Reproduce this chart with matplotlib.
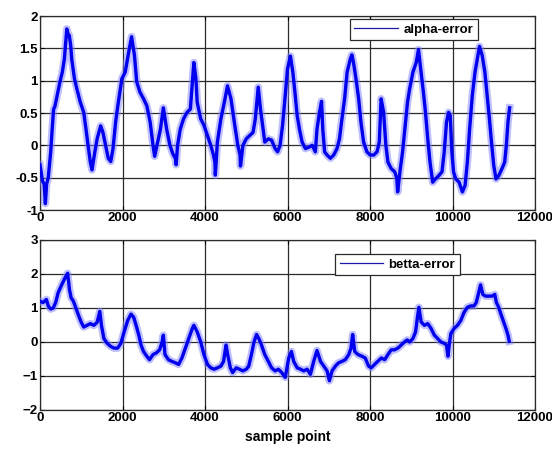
import matplotlib
matplotlib.use("Agg")
import matplotlib.pyplot as plt

### DATA
alpha_x = [0, 60, 100, 130, 160, 200, 260, 295, 330, 360, 400, 480, 540, 590, 650, 680, 710, 745, 770,
           835, 895, 975, 1060, 1115, 1165, 1220, 1260, 1330, 1385, 1470, 1525, 1590, 1655, 1715, 1770,
           1835, 1900, 1985, 2065, 2150, 2220, 2290, 2345, 2425, 2510, 2590, 2670, 2740, 2780, 2835,
           2920, 2990, 3070, 3150, 3220, 3280, 3300, 3335, 3400, 3480, 3565, 3645, 3700, 3730, 3780,
           3810, 3895, 3975, 4060, 4140, 4205, 4240, 4250, 4300, 4385, 4470, 4545, 4630, 4710, 4795,
           4850, 4860, 4920, 5000, 5080, 5165, 5220, 5290, 5345, 5410, 5450, 5535, 5615, 5700, 5760,
           5820, 5880, 5945, 6000, 6070, 6130, 6180, 6235, 6290, 6355, 6435, 6515, 6600, 6675, 6715,
           6775, 6825, 6855, 6900, 6960, 7040, 7120, 7200, 7260, 7320, 7385, 7445, 7525, 7560, 7600,
           7660, 7725, 7780, 7845, 7925, 8005, 8090, 8170, 8225, 8270, 8330, 8385, 8435, 8515, 8600,
           8650, 8670, 8735, 8790, 8855, 8910, 8960, 9040, 9120, 9175, 9240, 9295, 9345, 9400, 9455,
           9520, 9585, 9665, 9745, 9800, 9855, 9905, 9945, 9985, 10025, 10080, 10160, 10240, 10305,
           10360, 10415, 10480, 10545, 10600, 10655, 10720, 10785, 10840, 10895, 10945, 11000, 11055,
           11120, 11200, 11265, 11305, 11345, 11385]
alpha_y = [-0.3, -0.55, -0.6, -0.9, -0.6, -0.5, -0.1, 0.25, 0.56, 0.6, 0.72, 0.97, 1.13, 1.33, 1.8, 1.72,
           1.7, 1.54, 1.33, 1.03, 0.87, 0.67, 0.51, 0.25, 0.0, -0.26, -0.38, -0.1, 0.1, 0.3, 0.2, 0.0,
           -0.2, -0.25, -0.05, 0.37, 0.67, 1.03, 1.13, 1.44, 1.68, 1.39, 0.98, 0.82, 0.72, 0.61, 0.36,
           0.0, -0.17, 0.0, 0.25, 0.58, 0.25, 0.0, -0.13, -0.2, -0.3, 0.0, 0.25, 0.41, 0.51, 0.56,
           1.03, 1.28, 1.03, 0.67, 0.41, 0.31, 0.15, 0.0, -0.15, -0.26, -0.46, 0.05, 0.41, 0.67, 0.92,
           0.72, 0.36, 0.0, -0.15, -0.32, 0.0, 0.1, 0.15, 0.2, 0.41, 0.9, 0.56, 0.25, 0.05, 0.1, 0.08,
           -0.05, -0.1, 0.0, 0.31, 0.77, 1.18, 1.38, 1.13, 0.82, 0.46, 0.25, 0.05, -0.05, -0.03, 0.0,
           -0.1, 0.25, 0.51, 0.68, 0.25, -0.1, -0.15, -0.2, -0.15, -0.05, 0.1, 0.41, 0.72, 1.13, 1.34,
           1.4, 1.28, 1.03, 0.72, 0.36, 0.05, -0.1, -0.15, -0.15, -0.1, 0.05, 0.72, 0.51, 0.0, -0.26,
           -0.36, -0.41, -0.51, -0.72, -0.36, -0.1, 0.31, 0.67, 0.87, 1.13, 1.28, 1.48, 1.13, 0.82, 0.51,
           0.1, -0.26, -0.57, -0.52, -0.47, -0.41, -0.1, 0.36, 0.51, 0.46, -0.1, -0.41, -0.52, -0.57,
           -0.72, -0.62, -0.26, 0.25, 0.77, 1.13, 1.33, 1.53, 1.39, 1.13, 0.77, 0.41, 0.05, -0.31, -0.52,
           -0.47, -0.36, -0.26, 0.0, 0.36, 0.58]

betta_x = [0, 75, 155, 200, 260, 320, 380, 440, 525, 605, 670, 715, 755, 810, 870, 935, 1000, 1060,
           1140, 1220, 1305, 1385, 1450, 1490, 1550, 1630, 1715, 1795, 1880, 1960, 2040, 2125, 2205,
           2270, 2330, 2395, 2450, 2510, 2590, 2655, 2740, 2820, 2900, 2960, 2990, 3030, 3115, 3195,
           3280, 3360, 3440, 3525, 3605, 3690, 3730, 3810, 3895, 3975, 4060, 4140, 4220, 4300, 4385,
           4450, 4510, 4550, 4615, 4670, 4755, 4835, 4920, 5000, 5060, 5125, 5190, 5250, 5305, 5370,
           5450, 5535, 5615, 5700, 5780, 5860, 5945, 6030, 6095, 6150, 6235, 6315, 6395, 6475, 6555,
           6635, 6715, 6800, 6880, 6960, 7015, 7080, 7160, 7240, 7320, 7400, 7485, 7540, 7580, 7630,
           7710, 7805, 7885, 7965, 8030, 8110, 8190, 8275, 8355, 8435, 8515, 8595, 8675, 8755, 8835,
           8900, 8960, 9040, 9105, 9145, 9185, 9240, 9320, 9400, 9480, 9560, 9640, 9720, 9800, 9855,
           9890, 9920, 9960, 10040, 10120, 10200, 10280, 10360, 10440, 10520, 10575, 10625, 10680,
           10735, 10800, 10880, 10960, 11025, 11065, 11120, 11185, 11240, 11295, 11345, 11375]
betta_y = [1.2, 1.16, 1.25, 1.06, 0.97, 1.0, 1.16, 1.45, 1.68, 1.88, 2.02, 1.54, 1.3, 1.2, 1.0, 0.78,
           0.58, 0.44, 0.49, 0.54, 0.49, 0.58, 0.9, 0.49, 0.1, -0.04, -0.13, -0.18, -0.18, -0.04, 0.3,
           0.63, 0.82, 0.73, 0.49, 0.2, -0.09, -0.28, -0.42, -0.52, -0.37, -0.32, -0.23, 0.0, 0.2,
           -0.37, -0.52, -0.57, -0.61, -0.66, -0.47, -0.18, 0.1, 0.39, 0.49, 0.3, 0.01, -0.37, -0.66,
           -0.76, -0.8, -0.76, -0.71, -0.57, -0.09, -0.37, -0.76, -0.9, -0.76, -0.8, -0.85, -0.8, -0.71,
           -0.37, 0.01, 0.22, 0.1, -0.09, -0.37, -0.57, -0.76, -0.85, -0.8, -0.9, -1.04, -0.47, -0.28,
           -0.57, -0.76, -0.8, -0.85, -0.8, -0.95, -0.57, -0.25, -0.57, -0.71, -0.85, -1.14, -0.85,
           -0.71, -0.61, -0.57, -0.52, -0.37, -0.18, 0.22, -0.28, -0.37, -0.42, -0.47, -0.71, -0.76,
           -0.66, -0.57, -0.47, -0.52, -0.37, -0.23, -0.23, -0.18, -0.09, 0.0, 0.06, 0.0, 0.1, 0.3,
           0.68, 1.02, 0.59, 0.49, 0.54, 0.4, 0.2, 0.1, 0.0, -0.04, -0.09, -0.42, -0.09, 0.25, 0.4,
           0.49, 0.63, 0.87, 1.02, 1.06, 1.06, 1.16, 1.4, 1.68, 1.4, 1.35, 1.35, 1.35, 1.4, 1.16, 1.02,
           0.78, 0.59, 0.4, 0.2, 0.02]

x_ticks = [0, 2000, 4000, 6000, 8000, 10000, 12000]
alpha_ticks = [-1, -0.5, 0, 0.5, 1, 1.5, 2]
alpha_labels = ["-1", "-0.5", "0", "0.5", "1", "1.5", "2"]
betta_ticks = [-2, -1, 0, 1, 2, 3]

### STYLE
plt.rcParams['font.family'] = ['Liberation Sans', 'DejaVu Sans']
plt.rcParams['font.weight'] = 'bold'
plt.rcParams['font.size'] = 9.5

fig = plt.figure(figsize=(5.52, 4.5), dpi=100)
ax1 = fig.add_axes([40 / 552, 1 - 210 / 450, 495 / 552, 194 / 450])
ax2 = fig.add_axes([40 / 552, 1 - 410 / 450, 495 / 552, 170 / 450])


def matlab_axes(ax, yticks, ylim, ylabels=None):
    ax.set_xlim(0, 12000)
    ax.set_ylim(*ylim)
    ax.set_xticks(x_ticks)
    ax.set_yticks(yticks)
    if ylabels is not None:
        ax.set_yticklabels(ylabels)
    ax.grid(True, color='#2a2a2a', linewidth=0.9, linestyle='-')
    ax.set_axisbelow(True)
    ax.tick_params(direction='in', length=3, width=0.8, top=True, right=True, pad=1.5,
                   labelsize=9.5)
    for lab in ax.get_xticklabels() + ax.get_yticklabels():
        lab.set_fontweight('bold')
    for s in ax.spines.values():
        s.set_color('#2a2a2a')
        s.set_linewidth(0.9)


# light halo + dark core to mimic the noisy band
ax1.plot(alpha_x, alpha_y, color='#8080ff', linewidth=5.5, alpha=0.5, zorder=3)
l1, = ax1.plot(alpha_x, alpha_y, color='#0000ee', linewidth=2.4, zorder=4, label='alpha-error')
matlab_axes(ax1, alpha_ticks, (-1, 2), alpha_labels)

ax2.plot(betta_x, betta_y, color='#8080ff', linewidth=5.5, alpha=0.5, zorder=3)
l2, = ax2.plot(betta_x, betta_y, color='#0000ee', linewidth=2.4, zorder=4, label='betta-error')
matlab_axes(ax2, betta_ticks, (-2, 3))
ax2.set_xlabel('sample point', fontweight='bold', fontsize=10, labelpad=4)

for ax, handle, anchor in [(ax1, l1, (0.626, 0.985)), (ax2, l2, (0.596, 0.918))]:
    leg = ax.legend(handles=[plt.Line2D([], [], color='#1a1aa8', linewidth=0.9)],
                    labels=[handle.get_label()], loc='upper left', bbox_to_anchor=anchor,
                    borderaxespad=0, fancybox=False, framealpha=1, edgecolor='#2a2a2a',
                    handlelength=3.3, handletextpad=0.4, borderpad=0.35,
                    prop={'weight': 'bold', 'size': 9.5})
    leg.get_frame().set_linewidth(0.9)
    leg.set_zorder(10)

fig.savefig('out.png', dpi=100)
